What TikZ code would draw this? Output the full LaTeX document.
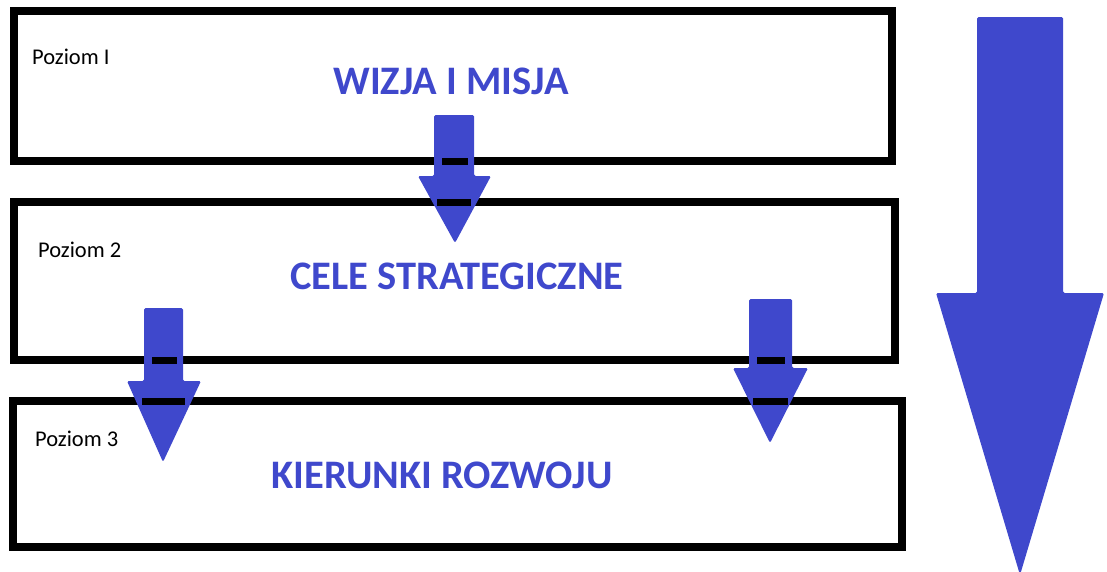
\documentclass[tikz,border=0pt]{standalone}
\usepackage{fontspec}
\setmainfont{Carlito}
\usepackage{xcolor}
\usepackage{tikz}
\definecolor{paintblue}{RGB}{63,72,204}

\begin{document}
\begin{tikzpicture}[x=1pt, y=-1pt,
    level/.style={draw, line width=8pt, inner sep=0pt},
    levelname/.style={anchor=base west, inner sep=0pt, font=\fontsize{22.5}{26}\selectfont},
    title/.style={anchor=base, inner sep=0pt, text=paintblue, font=\fontsize{40.5}{46}\selectfont\bfseries},
    blockarrow/.style={fill=paintblue, rounded corners=1.5pt},
    bar/.style={line width=7pt}]
        \useasboundingbox (0,0) rectangle (1107,571);

        % levels
        \node[level, minimum width=878, minimum height=150] (l1) at (453,86) {};
        \node[level, minimum width=881, minimum height=158] (l2) at (454.5,281) {};
        \node[level, minimum width=889, minimum height=146] (l3) at (457.5,474) {};

        \node[levelname] (n1) at (32,64) {Poziom I};
        \node[levelname] (n2) at (38,257) {Poziom 2};
        \node[levelname] (n3) at (35,446) {Poziom 3};

        \node[title] (t1) at (451,94) {WIZJA I MISJA};
        \node[title] (t2) at (457,289) {CELE STRATEGICZNE};
        \node[title] (t3) at (442,488) {KIERUNKI ROZWOJU};

        % arrows between levels
        \fill[blockarrow] (434,115) -- (474,115) -- (474,176) -- (491,176) -- (455,243) -- (418,176) -- (434,176) -- cycle;
        \fill[blockarrow] (144,308) -- (183,308) -- (183,381) -- (201,381) -- (163,462) -- (127,381) -- (144,381) -- cycle;
        \fill[blockarrow] (749,299) -- (792,299) -- (792,368) -- (808,368) -- (770,443) -- (733,368) -- (749,368) -- cycle;
        \draw[bar] (442,161) -- (468,161);
        \draw[bar] (437,202) -- (471,202);
        \draw[bar] (152,360) -- (177,360);
        \draw[bar] (142,401) -- (185,401);
        \draw[bar] (757,360) -- (785,360);
        \draw[bar] (753,401) -- (788,401);

        % big arrow
        \fill[blockarrow] (977,17) -- (1063,17) -- (1063,293) -- (1104,293) -- (1020,575) -- (936,293) -- (977,293) -- cycle;
    \end{tikzpicture}
\end{document}
